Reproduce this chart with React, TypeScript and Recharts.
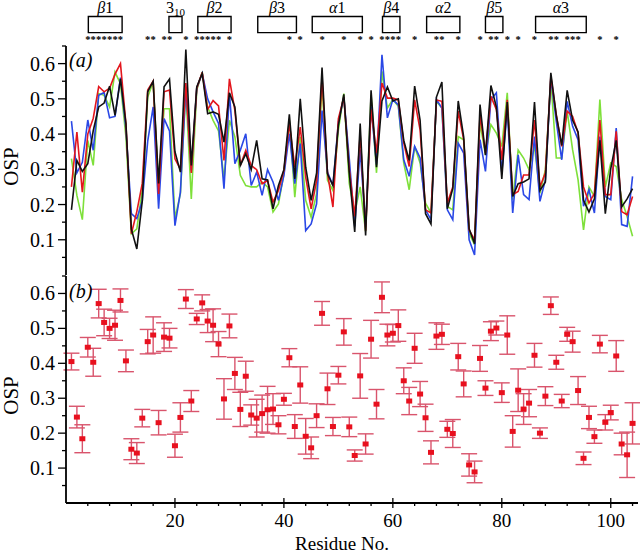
import React from "react";
import {
  ComposedChart,
  Line,
  Scatter,
  ErrorBar,
  XAxis,
  YAxis,
  ReferenceArea,
} from "recharts";

// page has an 8px body margin by default; the figure wants the full 640x554
document.body.style.margin = "0";

const SERIF = "'Liberation Serif', Tinos, 'DejaVu Serif', Times, serif";

const residues = [
  1, 2, 3, 4, 5, 6, 7, 8, 9, 10, 11, 12, 13, 14, 15, 16, 17, 18, 19, 20,
  21, 22, 23, 24, 25, 26, 27, 28, 29, 30, 31, 32, 33, 34, 35, 36, 37, 38, 39, 40,
  41, 42, 43, 44, 45, 46, 47, 48, 49, 50, 51, 52, 53, 54, 55, 56, 57, 58, 59, 60,
  61, 62, 63, 64, 65, 66, 67, 68, 69, 70, 71, 72, 73, 74, 75, 76, 77, 78, 79, 80,
  81, 82, 83, 84, 85, 86, 87, 88, 89, 90, 91, 92, 93, 94, 95, 96, 97, 98, 99, 100,
  101, 102, 103, 104,
];

// panel (a): four runs
const ospRed = [
  0.25, 0.406, 0.235, 0.4, 0.445, 0.535, 0.52, 0.53, 0.57, 0.6,
  0.43, 0.117, 0.18, 0.26, 0.525, 0.55, 0.23, 0.52, 0.525, 0.33,
  0.3, 0.545, 0.29, 0.53, 0.575, 0.47, 0.495, 0.48, 0.325, 0.557,
  0.467, 0.311, 0.354, 0.311, 0.299, 0.259, 0.268, 0.207, 0.24, 0.297,
  0.43, 0.306, 0.42, 0.278, 0.188, 0.268, 0.562, 0.29, 0.193, 0.444,
  0.505, 0.3, 0.166, 0.4, 0.126, 0.47, 0.346, 0.545, 0.502, 0.502,
  0.497, 0.375, 0.308, 0.497, 0.412, 0.185, 0.176, 0.497, 0.493, 0.204,
  0.25, 0.465, 0.384, 0.128, 0.1, 0.455, 0.346, 0.507, 0.47, 0.327,
  0.497, 0.228, 0.237, 0.284, 0.284, 0.44, 0.25, 0.29, 0.564, 0.455,
  0.365, 0.465, 0.45, 0.403, 0.25, 0.204, 0.232, 0.44, 0.228, 0.228,
  0.408, 0.18, 0.171, 0.223,
];

const ospBlue = [
  0.437, 0.29, 0.32, 0.44, 0.354, 0.51, 0.518, 0.446, 0.45, 0.56,
  0.415, 0.174, 0.16, 0.21, 0.38, 0.477, 0.188, 0.444, 0.409, 0.14,
  0.235, 0.534, 0.297, 0.53, 0.572, 0.5, 0.463, 0.43, 0.245, 0.515,
  0.316, 0.354, 0.401, 0.254, 0.292, 0.226, 0.299, 0.264, 0.212, 0.283,
  0.401, 0.259, 0.373, 0.126, 0.145, 0.202, 0.467, 0.292, 0.254, 0.434,
  0.505, 0.33, 0.138, 0.356, 0.138, 0.479, 0.313, 0.625, 0.446, 0.498,
  0.483, 0.327, 0.28, 0.365, 0.332, 0.185, 0.157, 0.498, 0.474, 0.185,
  0.157, 0.374, 0.346, 0.1, 0.057, 0.384, 0.294, 0.498, 0.517, 0.29,
  0.474, 0.176, 0.341, 0.228, 0.214, 0.393, 0.209, 0.27, 0.559, 0.436,
  0.327, 0.493, 0.422, 0.384, 0.195, 0.242, 0.176, 0.393, 0.223, 0.214,
  0.417, 0.143, 0.138, 0.28,
];

const ospGreen = [
  0.33, 0.226, 0.157, 0.382, 0.311, 0.515, 0.51, 0.477, 0.576, 0.543,
  0.392, 0.117, 0.131, 0.24, 0.505, 0.548, 0.259, 0.472, 0.472, 0.16,
  0.231, 0.524, 0.216, 0.524, 0.576, 0.477, 0.439, 0.409, 0.273, 0.439,
  0.392, 0.283, 0.254, 0.25, 0.25, 0.264, 0.25, 0.179, 0.202, 0.288,
  0.439, 0.221, 0.392, 0.212, 0.164, 0.231, 0.543, 0.269, 0.24, 0.411,
  0.515, 0.26, 0.176, 0.25, 0.124, 0.512, 0.29, 0.578, 0.474, 0.498,
  0.479, 0.318, 0.242, 0.365, 0.318, 0.204, 0.176, 0.493, 0.474, 0.195,
  0.185, 0.393, 0.384, 0.119, 0.086, 0.431, 0.341, 0.427, 0.403, 0.365,
  0.517, 0.214, 0.355, 0.332, 0.299, 0.365, 0.232, 0.299, 0.555, 0.332,
  0.332, 0.465, 0.355, 0.27, 0.128, 0.25, 0.223, 0.498, 0.25, 0.318,
  0.308, 0.214, 0.166, 0.11,
];

const ospBlack = [
  0.185, 0.325, 0.294, 0.316, 0.41, 0.477, 0.488, 0.536, 0.453, 0.557,
  0.43, 0.13, 0.074, 0.21, 0.52, 0.55, 0.26, 0.534, 0.556, 0.35,
  0.292, 0.64, 0.311, 0.534, 0.572, 0.458, 0.463, 0.456, 0.377, 0.517,
  0.477, 0.311, 0.344, 0.299, 0.382, 0.273, 0.27, 0.188, 0.254, 0.299,
  0.456, 0.273, 0.5, 0.306, 0.212, 0.29, 0.589, 0.287, 0.254, 0.425,
  0.513, 0.29, 0.122, 0.43, 0.112, 0.524, 0.306, 0.494, 0.534, 0.494,
  0.5, 0.382, 0.325, 0.536, 0.439, 0.174, 0.145, 0.505, 0.548, 0.188,
  0.245, 0.494, 0.392, 0.131, 0.089, 0.484, 0.34, 0.538, 0.477, 0.273,
  0.491, 0.223, 0.259, 0.264, 0.273, 0.491, 0.24, 0.264, 0.574, 0.453,
  0.368, 0.524, 0.439, 0.406, 0.212, 0.179, 0.216, 0.382, 0.174, 0.302,
  0.382, 0.193, 0.216, 0.245,
];

// panel (b): mean with error
const ospMean = [
  0.405, 0.246, 0.184, 0.446, 0.403, 0.571, 0.517, 0.5, 0.509, 0.58,
  0.407, 0.154, 0.143, 0.243, 0.462, 0.481, 0.23, 0.475, 0.472, 0.164,
  0.245, 0.584, 0.292, 0.527, 0.573, 0.521, 0.509, 0.455, 0.298, 0.507,
  0.371, 0.268, 0.363, 0.252, 0.243, 0.256, 0.267, 0.269, 0.224, 0.297,
  0.416, 0.219, 0.338, 0.191, 0.158, 0.25, 0.543, 0.327, 0.219, 0.366,
  0.49, 0.218, 0.136, 0.364, 0.169, 0.469, 0.283, 0.589, 0.481, 0.486,
  0.508, 0.35, 0.292, 0.443, 0.312, 0.244, 0.145, 0.478, 0.483, 0.211,
  0.199, 0.419, 0.341, 0.109, 0.089, 0.414, 0.329, 0.492, 0.501, 0.316,
  0.481, 0.205, 0.323, 0.269, 0.286, 0.423, 0.2, 0.306, 0.565, 0.403,
  0.292, 0.483, 0.462, 0.322, 0.128, 0.245, 0.19, 0.455, 0.231, 0.259,
  0.421, 0.169, 0.138, 0.228,
];

const ospErr = [
  0.024, 0.031, 0.04, 0.028, 0.04, 0.041, 0.038, 0.029, 0.043, 0.033,
  0.031, 0.03, 0.03, 0.025, 0.035, 0.052, 0.035, 0.041, 0.028, 0.033,
  0.042, 0.027, 0.03, 0.016, 0.023, 0.033, 0.047, 0.036, 0.058, 0.034,
  0.046, 0.049, 0.043, 0.029, 0.054, 0.053, 0.067, 0.044, 0.026, 0.017,
  0.026, 0.034, 0.052, 0.051, 0.031, 0.034, 0.034, 0.045, 0.026, 0.025,
  0.038, 0.028, 0.016, 0.064, 0.029, 0.054, 0.042, 0.044, 0.031, 0.025,
  0.045, 0.037, 0.039, 0.043, 0.036, 0.039, 0.033, 0.038, 0.029, 0.023,
  0.04, 0.038, 0.037, 0.032, 0.031, 0.037, 0.021, 0.027, 0.02, 0.028,
  0.055, 0.045, 0.061, 0.044, 0.039, 0.034, 0.015, 0.027, 0.025, 0.02,
  0.019, 0.02, 0.03, 0.04, 0.018, 0.032, 0.019, 0.025, 0.022, 0.021,
  0.044, 0.031, 0.065, 0.059,
];

const yTicks = [0.05, 0.1, 0.15, 0.2, 0.25, 0.3, 0.35, 0.4, 0.45, 0.5, 0.55, 0.6, 0.65];
const xMajor = [20, 40, 60, 80, 100];
const xMinor = [
  4, 8, 12, 16, 20, 24, 28, 32, 36, 40, 44, 48, 52, 56, 60, 64, 68, 72, 76, 80,
  84, 88, 92, 96, 100, 104,
];

// secondary structure boxes (residue span) and the starred residues
const structures = [
  { name: "β1", from: 4.1, to: 10.3 },
  { name: "3", sub: "10", from: 18.9, to: 21.3 },
  { name: "β2", from: 24.2, to: 30.3 },
  { name: "β3", from: 35.2, to: 42.3 },
  { name: "α1", from: 45.2, to: 54.4 },
  { name: "β4", from: 58.1, to: 61.3 },
  { name: "α2", from: 66.2, to: 72.3 },
  { name: "β5", from: 77.0, to: 80.2 },
  { name: "α3", from: 86.2, to: 95.5 },
];
const starResidues = [
  4, 5, 6, 7, 8, 9, 10, 15, 16, 18, 19, 22, 24, 25, 26, 27, 28, 30, 41, 43,
  47, 51, 54, 56, 58, 59, 60, 61, 64, 68, 69, 72, 76, 78, 79, 81, 83, 86, 89, 90,
  92, 93, 94, 98, 101,
];

const rowsA = residues.map((r, i) => ({
  residue: r,
  red: ospRed[i],
  blue: ospBlue[i],
  green: ospGreen[i],
  black: ospBlack[i],
}));
const rowsB = residues.map((r, i) => ({ residue: r, osp: ospMean[i], err: ospErr[i] }));
const stars = starResidues.map((r) => ({ x: r, y: 0.8 }));

const AXIS = { stroke: "#000", strokeWidth: 1.8 };
const W = 640;

function LeftTick({ x, y, payload }: any) {
  const v = payload.value;
  const major = Math.abs(v * 10 - Math.round(v * 10)) < 1e-6;
  return (
    <g>
      <line x1={x} x2={x - (major ? 8 : 4)} y1={y} y2={y} stroke="#000" strokeWidth={1.3} />
      {major && (
        <text x={x - 11} y={y + 7} textAnchor="end" fontSize={20} fontFamily={SERIF} fill="#000">
          {v.toFixed(1)}
        </text>
      )}
    </g>
  );
}

// major ticks drawn into the plot (dir 1 = down, -1 = up)
const innerTick = (dir: number) => ({ x, y, payload }: any) =>
  xMajor.includes(payload.value) ? (
    <line x1={x} x2={x} y1={y} y2={y + dir * 5} stroke="#000" strokeWidth={1.3} />
  ) : (
    <g />
  );

function BottomTick({ x, y, payload }: any) {
  const major = xMajor.includes(payload.value);
  return (
    <g>
      <line x1={x} x2={x} y1={major ? y - 5 : y} y2={y + (major ? 5 : 3)} stroke="#000" strokeWidth={1.3} />
      {major && (
        <text x={x} y={y + 24} textAnchor="middle" fontSize={19} fontFamily={SERIF} fill="#000">
          {payload.value}
        </text>
      )}
    </g>
  );
}

const ospLabel = (p: any) => {
  const cx = 11;
  const cy = p.viewBox.y + p.viewBox.height / 2 + 6;
  return (
    <text
      x={cx}
      y={cy}
      transform={`rotate(-90 ${cx} ${cy})`}
      textAnchor="middle"
      dominantBaseline="central"
      fontSize={21}
      fontFamily={SERIF}
      fill="#000"
    >
      OSP
    </text>
  );
};

function StructureLabel({ viewBox, item }: any) {
  const cx = viewBox.x + viewBox.width / 2;
  const y = viewBox.y - 4;
  const greek = /[α-ω]/.test(item.name[0]);
  return (
    <text x={cx} y={y} textAnchor="middle" fontSize={16} fontFamily={SERIF} fill="#000">
      {greek ? (
        <>
          <tspan fontStyle="italic">{item.name[0]}</tspan>
          <tspan>{item.name.slice(1)}</tspan>
        </>
      ) : (
        <>
          <tspan>{item.name}</tspan>
          <tspan fontSize={11} dy={3}>{item.sub}</tspan>
        </>
      )}
    </text>
  );
}

// asterisk, small enough that neighbours (one residue apart) don't collide
const Star = (p: any) => (
  <text
    x={p.cx}
    y={p.cy + 6}
    textAnchor="middle"
    fontSize={10.5}
    fontWeight={700}
    fontFamily={SERIF}
    fill="#000"
  >
    *
  </text>
);

const Square = (p: any) => <rect x={p.cx - 3} y={p.cy - 2.5} width={6} height={5} fill="#e8101e" />;

function PanelTag({ text, top }: { text: string; top: number }) {
  return (
    <div
      style={{
        position: "absolute",
        left: 69,
        top,
        fontSize: 20,
        lineHeight: "20px",
        fontStyle: "italic",
        fontFamily: SERIF,
        color: "#000",
      }}
    >
      {text}
    </div>
  );
}

export default function App() {
  return (
    <div style={{ position: "relative", width: W, height: 554, background: "#fff", fontFamily: SERIF }}>
      {/* secondary structure strip */}
      <div style={{ position: "absolute", left: 0, top: 0 }}>
        <ComposedChart width={W} height={46} margin={{ top: 0, right: 2, bottom: 0, left: 66 }}>
          <XAxis type="number" dataKey="x" domain={[0, 105]} allowDataOverflow hide />
          <YAxis type="number" dataKey="y" domain={[0, 1]} reversed allowDataOverflow hide />
          {structures.map((s) => (
            <ReferenceArea
              key={s.name}
              x1={s.from}
              x2={s.to}
              y1={0.36}
              y2={0.71}
              fill="none"
              stroke="#000"
              strokeWidth={1.4}
              label={(p: any) => <StructureLabel viewBox={p.viewBox} item={s} />}
            />
          ))}
          <Scatter data={stars} shape={Star} isAnimationActive={false} />
        </ComposedChart>
      </div>

      {/* (a) */}
      <div style={{ position: "absolute", left: 0, top: 40 }}>
        <ComposedChart width={W} height={240} data={rowsA} margin={{ top: 6, right: 2, bottom: 5, left: 0 }}>
          <XAxis
            xAxisId="b"
            type="number"
            dataKey="residue"
            domain={[0, 105]}
            ticks={xMajor}
            interval={0}
            height={0}
            axisLine={AXIS}
            tickLine={false}
            tickSize={0}
            tickMargin={0}
            tick={innerTick(-1)}
            allowDataOverflow
          />
          <XAxis
            xAxisId="t"
            orientation="top"
            type="number"
            domain={[0, 105]}
            ticks={xMajor}
            interval={0}
            height={0}
            axisLine={AXIS}
            tickLine={false}
            tickSize={0}
            tickMargin={0}
            tick={innerTick(1)}
            allowDataOverflow
          />
          <YAxis
            yAxisId="l"
            type="number"
            domain={[0, 0.65]}
            ticks={yTicks}
            interval={0}
            width={66}
            axisLine={AXIS}
            tickLine={false}
            tickSize={0}
            tickMargin={0}
            tick={LeftTick}
            label={{ content: ospLabel }}
            allowDataOverflow
          />
          <YAxis yAxisId="r" orientation="right" type="number" domain={[0, 0.65]} width={0} axisLine={AXIS} tick={false} tickLine={false} />
          <Line xAxisId="b" yAxisId="l" dataKey="green" stroke="#7ee03a" strokeWidth={1.6} dot={false} isAnimationActive={false} />
          <Line xAxisId="b" yAxisId="l" dataKey="blue" stroke="#2a48e6" strokeWidth={1.6} dot={false} isAnimationActive={false} />
          <Line xAxisId="b" yAxisId="l" dataKey="red" stroke="#e3161d" strokeWidth={1.6} dot={false} isAnimationActive={false} />
          <Line xAxisId="b" yAxisId="l" dataKey="black" stroke="#111" strokeWidth={1.6} dot={false} isAnimationActive={false} />
        </ComposedChart>
      </div>

      {/* (b) */}
      <div style={{ position: "absolute", left: 0, top: 270 }}>
        <ComposedChart width={W} height={284} data={rowsB} margin={{ top: 6, right: 2, bottom: 0, left: 0 }}>
          <XAxis
            xAxisId="b"
            type="number"
            dataKey="residue"
            domain={[0, 105]}
            ticks={xMinor}
            interval={0}
            height={51}
            axisLine={AXIS}
            tickLine={false}
            tickSize={0}
            tickMargin={0}
            tick={BottomTick}
            allowDataOverflow
            label={{
              content: (p: any) => (
                <text
                  x={p.viewBox.x + p.viewBox.width / 2 - 10}
                  y={p.viewBox.y + 46.5}
                  textAnchor="middle"
                  fontSize={19}
                  fontFamily={SERIF}
                  fill="#000"
                >
                  Residue No.
                </text>
              ),
            }}
          />
          <XAxis
            xAxisId="t"
            orientation="top"
            type="number"
            domain={[0, 105]}
            ticks={xMajor}
            interval={0}
            height={0}
            axisLine={AXIS}
            tickLine={false}
            tickSize={0}
            tickMargin={0}
            tick={innerTick(1)}
            allowDataOverflow
          />
          <YAxis
            yAxisId="l"
            type="number"
            dataKey="osp"
            domain={[0, 0.65]}
            ticks={yTicks}
            interval={0}
            width={66}
            axisLine={AXIS}
            tickLine={false}
            tickSize={0}
            tickMargin={0}
            tick={LeftTick}
            label={{ content: ospLabel }}
            allowDataOverflow
          />
          <YAxis yAxisId="r" orientation="right" type="number" domain={[0, 0.65]} width={0} axisLine={AXIS} tick={false} tickLine={false} />
          <Scatter xAxisId="b" yAxisId="l" data={rowsB} dataKey="osp" shape={Square} isAnimationActive={false}>
            <ErrorBar dataKey="err" direction="y" width={8} stroke="#d9546c" strokeWidth={1.4} isAnimationActive={false} />
          </Scatter>
        </ComposedChart>
      </div>

      <PanelTag text="(a)" top={50} />
      <PanelTag text="(b)" top={281} />
    </div>
  );
}
